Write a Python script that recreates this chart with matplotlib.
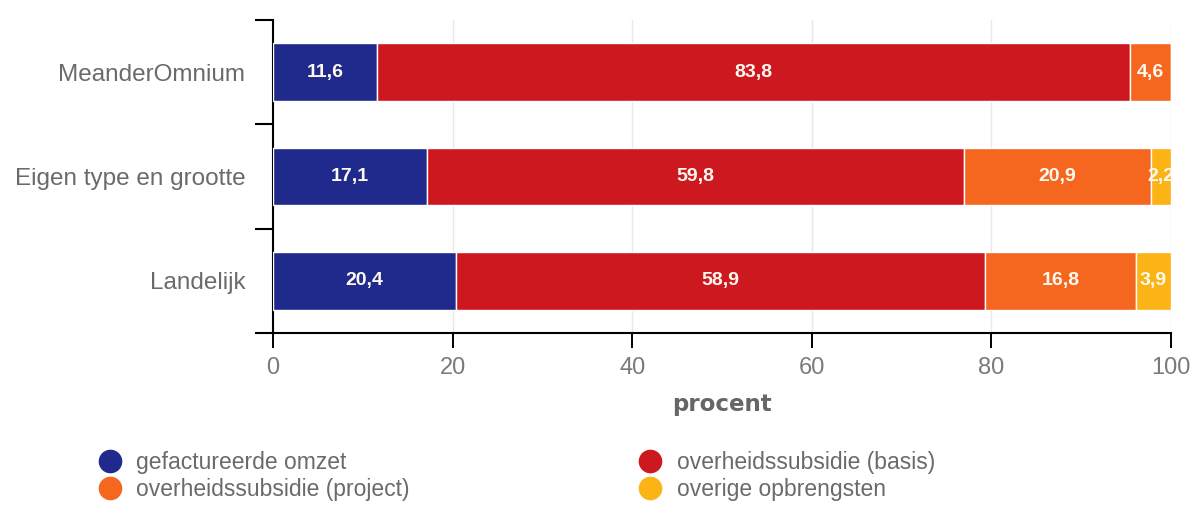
import matplotlib
matplotlib.use("Agg")
import matplotlib.pyplot as plt
from matplotlib.lines import Line2D
import numpy as np

categories = ["MeanderOmnium", "Eigen type en grootte", "Landelijk"]
series_names = ["gefactureerde omzet", "overheidssubsidie (basis)",
                "overheidssubsidie (project)", "overige opbrengsten"]
values = {
    "gefactureerde omzet": [11.6, 17.1, 20.4],
    "overheidssubsidie (basis)": [83.8, 59.8, 58.9],
    "overheidssubsidie (project)": [4.6, 20.9, 16.8],
    "overige opbrengsten": [0.0, 2.2, 3.9],
}
colors = {
    "gefactureerde omzet": "#1f2a8c",
    "overheidssubsidie (basis)": "#cc181e",
    "overheidssubsidie (project)": "#f5671f",
    "overige opbrengsten": "#fbb316",
}
xticks = [0, 20, 40, 60, 80, 100]

plt.rcParams['font.family'] = ['Liberation Sans', 'DejaVu Sans']
fig = plt.figure(figsize=(11.94, 5.05), dpi=100)
ax = fig.add_axes([273/1194, 1-333/505, (1171-273)/1194, 313/505])

y = np.arange(len(categories))
left = np.zeros(len(categories))
for name in series_names:
    vals = np.array(values[name])
    ax.barh(y, vals, left=left, height=0.555, color=colors[name],
            edgecolor="white", linewidth=1, zorder=3)
    for yi, l, v in zip(y, left, vals):
        if v > 0:
            ax.text(l + v/2, yi, f"{v:.1f}".replace(".", ","), ha="center", va="center",
                    color="#fffaf0", fontsize=14, fontweight="bold", zorder=4)
    left += vals

ax.set_xlim(0, 100)
ax.set_ylim(2.5, -0.5)
ax.set_xticks(xticks)
ax.set_xticklabels([str(t) for t in xticks])
ax.set_yticks(y)
ax.set_yticklabels(categories)
ax.set_yticks([-0.5, 0.5, 1.5, 2.5], minor=True)
ax.tick_params(axis="y", which="major", length=0, pad=20, labelsize=17.5, labelcolor="#6a6a6a")
ax.tick_params(axis="y", which="minor", length=13, width=1.5, color="black")
ax.tick_params(axis="x", which="major", length=11, width=1.4, color="black",
               labelsize=17, labelcolor="#7a7a7a", pad=6)
for s in ["top", "right"]:
    ax.spines[s].set_visible(False)
ax.spines["left"].set_linewidth(1.5)
ax.spines["bottom"].set_linewidth(1.5)
ax.grid(axis="x", color="#e8e8e8", linewidth=1, zorder=0)
ax.set_axisbelow(True)
ax.set_xlabel("procent", fontsize=16.5, fontweight="bold", color="#666666", labelpad=10,
              family="DejaVu Sans")

order = ["gefactureerde omzet", "overheidssubsidie (project)",
         "overheidssubsidie (basis)", "overige opbrengsten"]
handles = [Line2D([], [], marker="o", linestyle="", markersize=16,
                  markerfacecolor=colors[n], markeredgecolor=colors[n]) for n in order]
leg = fig.legend(handles, order, ncol=2, loc="center left",
                 bbox_to_anchor=(96/1194, 1-476/505), borderaxespad=0, borderpad=0,
                 frameon=False, fontsize=16.5, labelspacing=0.18, handletextpad=0.55,
                 columnspacing=9.9, handlelength=1.2)
for t in leg.get_texts():
    t.set_color("#6a6a6a")

fig.savefig("out.png", dpi=100, facecolor="white")
